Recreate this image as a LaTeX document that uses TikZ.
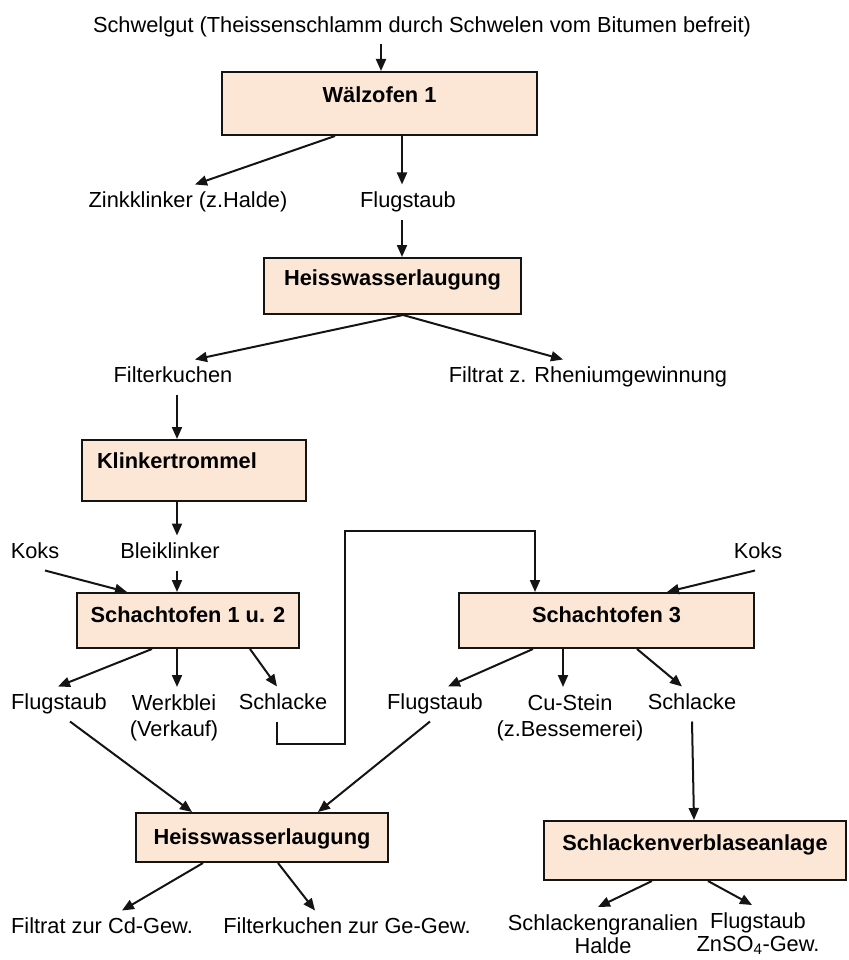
\documentclass[tikz,border=0pt]{standalone}
\usepackage{fontspec}
\setmainfont{Liberation Sans}
\usetikzlibrary{arrows.meta}
\newcommand\flowfont{\fontsize{21.8pt}{26pt}\selectfont}
\newcommand\engfont{\fontsize{21.8pt}{22.5pt}\selectfont}
\definecolor{kasten}{RGB}{252,230,214}
\definecolor{linie}{RGB}{20,20,20}
\tikzset{
  anlage/.style={draw=linie, line width=2pt, fill=kasten, font=\flowfont\bfseries, inner sep=0pt, anchor=base},
  lbl/.style={font=\flowfont, text height=15pt, text depth=4pt, inner xsep=2pt, inner ysep=7pt},
  lblzwei/.style={font=\flowfont, align=center, inner xsep=2pt, inner ysep=7pt, anchor=north}
}
\begin{document}
\begin{tikzpicture}[x=1pt,y=-1pt,line width=2pt,draw=linie,>={Triangle[length=12pt,width=10pt]}]
        \useasboundingbox (0,0) rectangle (848,960);

        \node[lbl] (schwel) at (422,27) {Schwelgut (Theissenschlamm durch Schwelen vom Bitumen befreit)};
        \node[anlage, minimum width=315pt, text height=30.5pt, text depth=32.5pt] (wofen) at (379.5,102.5) {Wälzofen 1};
        \node[lbl] (zink) at (188,202) {Zinkklinker (z.Halde)};
        \node[lbl] (flug1) at (408,202) {Flugstaub};
        \node[anlage, minimum width=257pt, text height=27.5pt, text depth=28.5pt] (hwl1) at (392.5,285.5) {Heisswasserlaugung};
        \node[lbl] (filterk) at (173,377) {Filterkuchen};
        \node[lbl] (filtrat) at (588,377) {Filtrat z. Rheniumgewinnung};
        \node[anlage, minimum width=224pt, text height=28.5pt, text depth=32.5pt] (klink) at (194,468.5) {\makebox[194pt][l]{Klinkertrommel}};

        \node[lbl] (kokslinks) at (35,553) {Koks};
        \node[lbl] (bleik) at (170,553) {Bleiklinker};
        \node[lbl] (koksrechts) at (758,553) {Koks};
        \node[anlage, minimum width=222pt, text height=29.5pt, text depth=25.5pt] (sof12) at (188,622.5) {Schachtofen 1 u. 2};
        \node[anlage, minimum width=295pt, text height=29.5pt, text depth=25.5pt] (sof3) at (606.5,622.5) {Schachtofen 3};

        \node[lbl] (flug2) at (59,704) {Flugstaub};
        \node[lblzwei] (werk) at (174,687) {Werkblei\\(Verkauf)};
        \node[lbl] (schlA) at (283,704) {Schlacke};
        \node[lbl] (flug3) at (435,704) {Flugstaub};
        \node[lblzwei] (custein) at (570,687) {Cu-Stein\\(z.Bessemerei)};
        \node[lbl] (schlB) at (692,704) {Schlacke};
        \coordinate (knick) at (345,531);

        \node[anlage, minimum width=252pt, text height=31.5pt, text depth=17.5pt] (hwl2) at (262,844.5) {Heisswasserlaugung};
        \node[anlage, minimum width=302pt, text height=29.5pt, text depth=29.5pt] (sva) at (695,850.5) {Schlackenverblaseanlage};
        \node[lbl] (cdgew) at (102,928) {Filtrat zur Cd-Gew.};
        \node[lbl] (gegew) at (347,928) {Filterkuchen zur Ge-Gew.};
        \node[lblzwei, font=\engfont] (granal) at (603,907) {Schlackengranalien\\Halde};
        \node[lblzwei, font=\engfont] (znso4) at (758,905) {Flugstaub\\ZnSO\textsubscript{4}-Gew.};

        % obere Kette
        \draw[->] ([xshift=-41pt]schwel.south) -- ([xshift=-41pt]schwel.south |- wofen.north);
        \draw[->] ([xshift=-44.5pt]wofen.south) -- ([xshift=7pt]zink.north);
        \draw[->] ([xshift=22.5pt]wofen.south) -- ([xshift=-6pt]flug1.north);
        \draw[->] ([xshift=-6pt]flug1.south) -- ([xshift=-6pt]flug1.south |- hwl1.north);
        \draw[->] ([xshift=10.5pt]hwl1.south) -- ([xshift=22pt]filterk.north);
        \draw[->] ([xshift=10.5pt]hwl1.south) -- ([xshift=-25pt]filtrat.north);
        \draw[->] ([xshift=4pt]filterk.south) -- ([xshift=-17pt]klink.north);
        \draw[->] ([xshift=-17pt]klink.south) -- ([xshift=7pt]bleik.north);

        % Schachtoefen
        \draw[->] ([xshift=7pt]bleik.south) -- ([xshift=-11pt]sof12.north);
        \draw[->] ([xshift=10pt]kokslinks.south) -- ([xshift=-61pt]sof12.north);
        \draw[->] ([xshift=-3pt]koksrechts.south) -- ([xshift=60.5pt]sof3.north);
        \draw[->] ([xshift=-36pt]sof12.south) -- ([xshift=-1pt]flug2.north);
        \draw[->] ([xshift=-11pt]sof12.south) -- ([xshift=3pt]werk.north);
        \draw[->] ([xshift=62pt]sof12.south) -- ([xshift=-6pt]schlA.north);
        \draw[->] ([xshift=-6pt]schlA.south) -- ++(0,22) -| (knick) -| ([xshift=-71.5pt]sof3.north);
        \draw[->] ([xshift=-73.5pt]sof3.south) -- ([xshift=13pt]flug3.north);
        \draw[->] ([xshift=-43.5pt]sof3.south) -- ([xshift=-7pt]custein.north);
        \draw[->] ([xshift=30.5pt]sof3.south) -- ([xshift=-10pt]schlB.north);

        % untere Stufe
        \draw[->] ([xshift=11pt]flug2.south) -- ([xshift=-70pt]hwl2.north);
        \draw[->] ([xshift=-5pt]flug3.south) -- ([xshift=56pt]hwl2.north);
        \draw[->] (schlB.south) -- ([xshift=-1pt]sva.north);
        \draw[->] ([xshift=-59pt]hwl2.south) -- ([xshift=20pt]cdgew.north);
        \draw[->] ([xshift=16pt]hwl2.south) -- ([xshift=-32pt]gegew.north);
        \draw[->] ([xshift=-43pt]sva.south) -- ([xshift=-5pt]granal.north);
        \draw[->] ([xshift=13pt]sva.south) -- ([xshift=-6pt]znso4.north);
\end{tikzpicture}
\end{document}
